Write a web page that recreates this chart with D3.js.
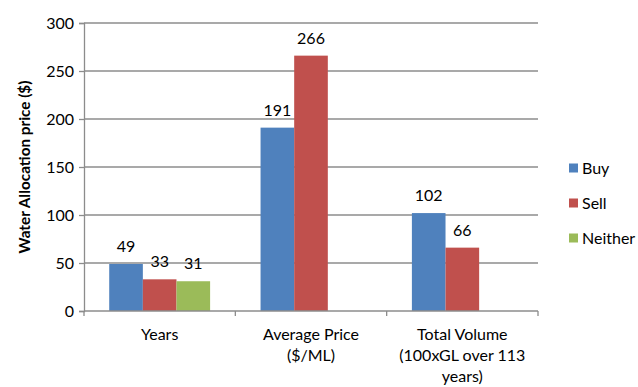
<!DOCTYPE html>
<html>
<head>
<meta charset="utf-8">
<script src="https://cdn.jsdelivr.net/npm/d3@7"></script>
<style>
  html, body { margin: 0; padding: 0; background: #fff; }
  text { font-family: Lato, "Open Sans", sans-serif; fill: #000; }
</style>
</head>
<body>
<svg id="chart" width="638" height="387"></svg>
<script>
// Categories (multi-line labels) and series values
const categories = ["Years", "Average Price", "Total Volume"];
const categoryLines = [
  ["Years"],
  ["Average Price", "($/ML)"],
  ["Total Volume", "(100xGL over 113", "years)"]
];
const seriesNames = ["Buy", "Sell", "Neither"];
const buy = [49, 191, 102];
const sell = [33, 266, 66];
const neither = [31, null, null];
const yTicks = [0, 50, 100, 150, 200, 250, 300];
const colors = ["#4F81BD", "#C0504D", "#9BBB59"];

const series = [buy, sell, neither];

const svg = d3.select("#chart");
const margin = { left: 84, top: 23 };
const plotW = 538 - margin.left;
const plotH = 311 - margin.top;
const axisColor = "#8c8c8c";

const g = svg.append("g").attr("transform", `translate(${margin.left},${margin.top})`);

const x0 = d3.scaleBand().domain(categories).range([0, plotW]).paddingInner(0).paddingOuter(0);
const inner = d3.scaleBand().domain(seriesNames).range([0, x0.bandwidth()]).paddingOuter(0.75).paddingInner(0);
const y = d3.scaleLinear().domain([0, 300]).range([plotH, 0]);

// Horizontal gridlines
g.append("g")
  .selectAll("line")
  .data(yTicks.filter(t => t > 0))
  .join("line")
  .attr("x1", 0).attr("x2", plotW)
  .attr("y1", d => y(d)).attr("y2", d => y(d))
  .attr("stroke", axisColor).attr("stroke-width", 1.3);

// Y axis
const yAxis = g.append("g")
  .call(d3.axisLeft(y).tickValues(yTicks).tickSize(5).tickPadding(5));
yAxis.select(".domain").attr("stroke", axisColor).attr("stroke-width", 1.3);
yAxis.selectAll(".tick line").attr("stroke", axisColor).attr("stroke-width", 1.3);
yAxis.selectAll(".tick text").attr("font-size", 16).attr("font-family", "Lato, sans-serif").attr("fill", "#000");

// Bars and value labels
const groups = g.append("g")
  .selectAll("g")
  .data(categories)
  .join("g")
  .attr("transform", d => `translate(${x0(d)},0)`);

groups.each(function (cat, ci) {
  const data = seriesNames
    .map((s, si) => ({ s, si, v: series[si][ci] }))
    .filter(d => d.v != null);
  const sel = d3.select(this);
  sel.selectAll("rect")
    .data(data)
    .join("rect")
    .attr("x", d => inner(d.s))
    .attr("width", inner.bandwidth())
    .attr("y", d => y(d.v))
    .attr("height", d => plotH - y(d.v))
    .attr("fill", d => colors[d.si]);
  sel.selectAll("text.val")
    .data(data)
    .join("text")
    .attr("class", "val")
    .attr("x", d => inner(d.s) + inner.bandwidth() / 2)
    .attr("y", d => y(d.v) - 12)
    .attr("text-anchor", "middle")
    .attr("font-size", 16)
    .text(d => d.v);
});

// X axis
const xAxis = g.append("g")
  .attr("transform", `translate(0,${plotH})`);
xAxis.append("line")
  .attr("x1", 0).attr("x2", plotW)
  .attr("stroke", axisColor).attr("stroke-width", 1.3);
const bounds = [0, ...categories.map(c => x0(c) + x0.bandwidth())];
xAxis.selectAll("line.tick")
  .data(bounds)
  .join("line")
  .attr("class", "tick")
  .attr("x1", d => d).attr("x2", d => d)
  .attr("y1", 0).attr("y2", 5)
  .attr("stroke", axisColor).attr("stroke-width", 1.3);

categories.forEach((c, ci) => {
  const cx = x0(c) + x0.bandwidth() / 2;
  const t = xAxis.append("text")
    .attr("x", cx)
    .attr("y", 29)
    .attr("text-anchor", "middle")
    .attr("font-size", 16);
  categoryLines[ci].forEach((line, li) => {
    t.append("tspan")
      .attr("x", cx)
      .attr("dy", li === 0 ? 0 : 21)
      .text(line);
  });
});

// Y axis title
svg.append("text")
  .attr("transform", `translate(30,${margin.top + plotH / 2}) rotate(-90)`)
  .attr("text-anchor", "middle")
  .attr("font-size", 15.3)
  .attr("font-weight", "bold")
  .text("Water Allocation price ($)");

// Legend
const legend = svg.append("g").attr("transform", "translate(569,168)");
seriesNames.forEach((s, i) => {
  const row = legend.append("g").attr("transform", `translate(0,${i * 35})`);
  row.append("rect")
    .attr("x", 0).attr("y", -4.5)
    .attr("width", 9).attr("height", 9)
    .attr("fill", colors[i]);
  row.append("text")
    .attr("x", 13).attr("y", 5.5)
    .attr("font-size", 16)
    .text(s);
});
</script>
</body>
</html>
